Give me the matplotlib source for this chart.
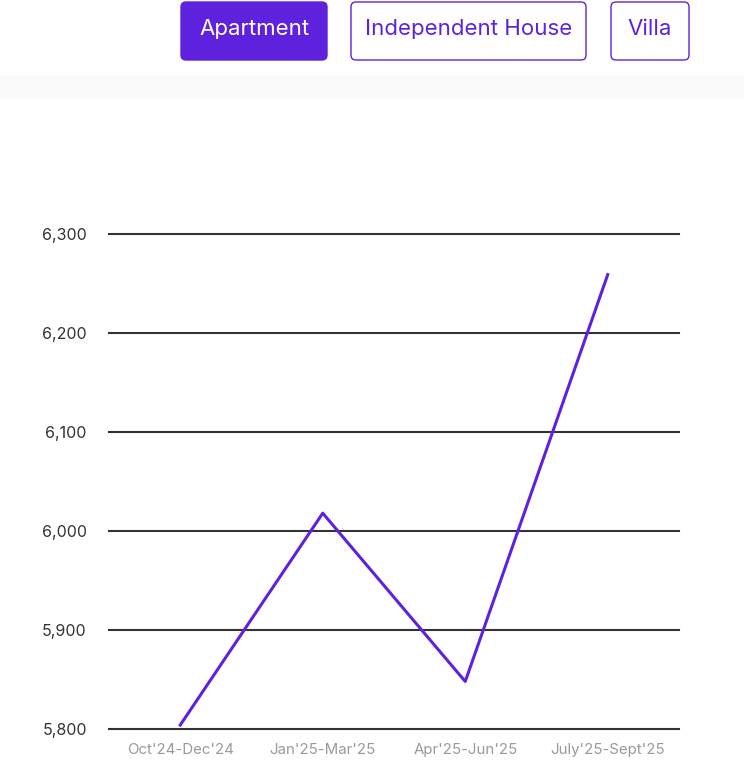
import matplotlib.pyplot as plt
from matplotlib.patches import FancyBboxPatch, Rectangle

plt.rcParams['font.family'] = ['Inter', 'DejaVu Sans']

periods = ["Oct'24-Dec'24", "Jan'25-Mar'25", "Apr'25-Jun'25", "July'25-Sept'25"]
prices = [5804, 6018, 5848, 6259]
y_ticks = [5800, 5900, 6000, 6100, 6200, 6300]
tabs = ["Apartment", "Independent House", "Villa"]

purple = '#5e22df'

fig = plt.figure(figsize=(7.44, 7.81), dpi=100)

# page overlay in pixel coords for the tab buttons and band
ui = fig.add_axes([0, 0, 1, 1])
ui.set_xlim(0, 744)
ui.set_ylim(781, 0)
ui.axis('off')
ui.add_patch(Rectangle((0, 76), 744, 22, color='#fafafa', lw=0))
tab_boxes = [(181, 327), (351, 586), (611, 689)]
for i, (name, (x0, x1)) in enumerate(zip(tabs, tab_boxes)):
    active = i == 0
    box = FancyBboxPatch((x0, 2), x1 - x0, 58,
                         boxstyle='round,pad=0,rounding_size=5',
                         fc=purple if active else 'white', ec=purple, lw=1.0)
    ui.add_patch(box)
    ui.text((x0 + x1) / 2, 29, name, ha='center', va='center', fontsize=16,
            color='white' if active else purple)

ax = fig.add_axes([109 / 744, 52 / 781, 570 / 744, 495 / 781])
x = range(len(periods))
ax.plot(x, prices, color=purple, lw=2.2, clip_on=False, zorder=3)
ax.set_xlim(-0.5, len(periods) - 0.5)
ax.set_ylim(5800, 6300)
ax.set_yticks(y_ticks)
ax.set_yticklabels([f'{v:,}' for v in y_ticks])
ax.set_xticks(list(x))
ax.set_xticklabels(periods)
ax.grid(axis='y', color='#333333', lw=1.5)
for gl in ax.get_ygridlines():
    gl.set_clip_on(False)
ax.set_axisbelow(True)
for s in ax.spines.values():
    s.set_visible(False)
ax.tick_params(axis='both', length=0)
ax.tick_params(axis='y', labelsize=11.5, labelcolor='#333333', pad=16)
ax.tick_params(axis='x', labelsize=10.8, labelcolor='#9a9a9a', pad=10)
ax.set_facecolor('none')

fig.savefig('out.png', dpi=100)
